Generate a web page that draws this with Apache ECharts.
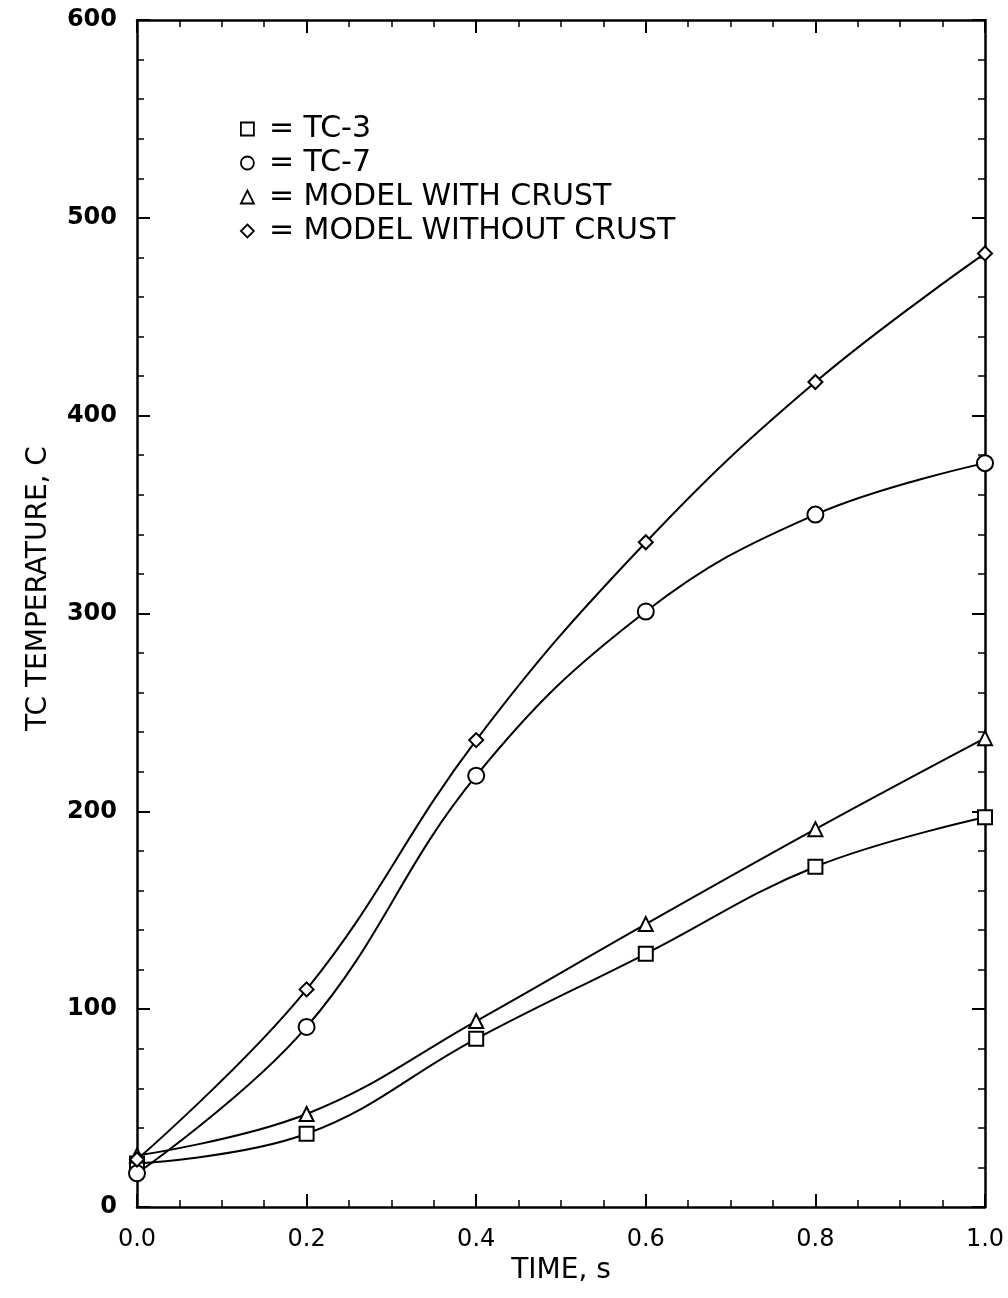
<!DOCTYPE html>
<html>
<head>
<meta charset="utf-8">
<script src="https://cdn.jsdelivr.net/npm/echarts@6/dist/echarts.min.js"></script>
<style>
html,body{margin:0;padding:0;background:#fff;}
#chart{width:1008px;height:1298px;}
</style>
</head>
<body>
<div id="chart"></div>
<script>
const time = [0, 0.2, 0.4, 0.6, 0.8, 1.0];
const tc3 = [22, 37, 85, 128, 172, 197];
const tc7 = [17, 91, 218, 301, 350, 376];
const modelWithCrust = [26, 47, 94, 143, 191, 237];
const modelWithoutCrust = [24, 110, 236, 336, 417, 482];
const seriesNames = ['TC-3', 'TC-7', 'MODEL WITH CRUST', 'MODEL WITHOUT CRUST'];
const xTicks = [0, 0.2, 0.4, 0.6, 0.8, 1.0];
const yTicks = [0, 100, 200, 300, 400, 500, 600];

const FONT = 'DejaVu Sans';
const chart = echarts.init(document.getElementById('chart'));

function pairs(ys) { return time.map((t, i) => [t, ys[i]]); }

const axisCommon = {
  axisLine: { show: true, onZero: false, lineStyle: { color: '#000', width: 2.5 } },
  axisTick: { show: true, inside: true, length: 13, lineStyle: { color: '#000', width: 2 } },
  minorTick: { show: true, length: 7, lineStyle: { color: '#000', width: 1.5 } },
  splitLine: { show: false },
  minorSplitLine: { show: false }
};

const xBase = Object.assign({}, axisCommon, {
  type: 'value', min: xTicks[0], max: xTicks[xTicks.length - 1], interval: 0.2,
  minorTick: Object.assign({}, axisCommon.minorTick, { splitNumber: 4 })
});
const yBase = Object.assign({}, axisCommon, {
  type: 'value', min: yTicks[0], max: yTicks[yTicks.length - 1], interval: 100,
  minorTick: Object.assign({}, axisCommon.minorTick, { splitNumber: 5 })
});

const symbols = ['emptyRect', 'emptyCircle', 'emptyTriangle', 'emptyDiamond'];
const sizes = [14, 16, 14, 14];
const legendIcons = ['rect', 'circle', 'triangle', 'diamond'];
const dataSets = [tc3, tc7, modelWithCrust, modelWithoutCrust];

chart.setOption({
  backgroundColor: '#fff',
  animation: false,
  grid: { left: 137, right: 23, top: 20, bottom: 91 },
  legend: {
    orient: 'vertical',
    left: 235, top: 109,
    itemWidth: 13, itemHeight: 13,
    itemGap: 4,
    formatter: '= {name}',
    textStyle: { fontFamily: FONT, fontSize: 30, color: '#000', lineHeight: 30, padding: [0, 0, 0, 10] },
    data: seriesNames.map((n, i) => ({
      name: n, icon: legendIcons[i],
      itemStyle: { color: '#fff', borderColor: '#000', borderWidth: 1.8 }
    }))
  },
  xAxis: [
    Object.assign({}, xBase, {
      position: 'bottom',
      name: 'TIME, s', nameLocation: 'middle', nameGap: 50,
      nameTextStyle: { fontFamily: FONT, fontSize: 28, color: '#000' },
      axisLabel: { show: true, margin: 21, fontFamily: FONT, fontSize: 24, color: '#000',
        formatter: v => v.toFixed(1) }
    }),
    Object.assign({}, xBase, { position: 'top', axisLabel: { show: false } })
  ],
  yAxis: [
    Object.assign({}, yBase, {
      position: 'left',
      name: 'TC TEMPERATURE, C', nameLocation: 'middle', nameGap: 84,
      nameTextStyle: { fontFamily: FONT, fontSize: 28, color: '#000', padding: [0, 0, 0, 50] },
      axisLabel: { show: true, margin: 20, fontFamily: FONT, fontSize: 24, fontWeight: 'bold', color: '#000' }
    }),
    Object.assign({}, yBase, { position: 'right', axisLabel: { show: false } })
  ],
  series: seriesNames.map((n, i) => ({
    name: n, type: 'line', xAxisIndex: 0, yAxisIndex: 0,
    data: pairs(dataSets[i]),
    smooth: 0.4,
    symbol: symbols[i], symbolSize: sizes[i],
    showAllSymbol: true,
    lineStyle: { color: '#000', width: 2 },
    itemStyle: { color: '#000', borderColor: '#000', borderWidth: 1.8 },
    emphasis: { disabled: true },
    clip: false
  }))
});
</script>
</body>
</html>
